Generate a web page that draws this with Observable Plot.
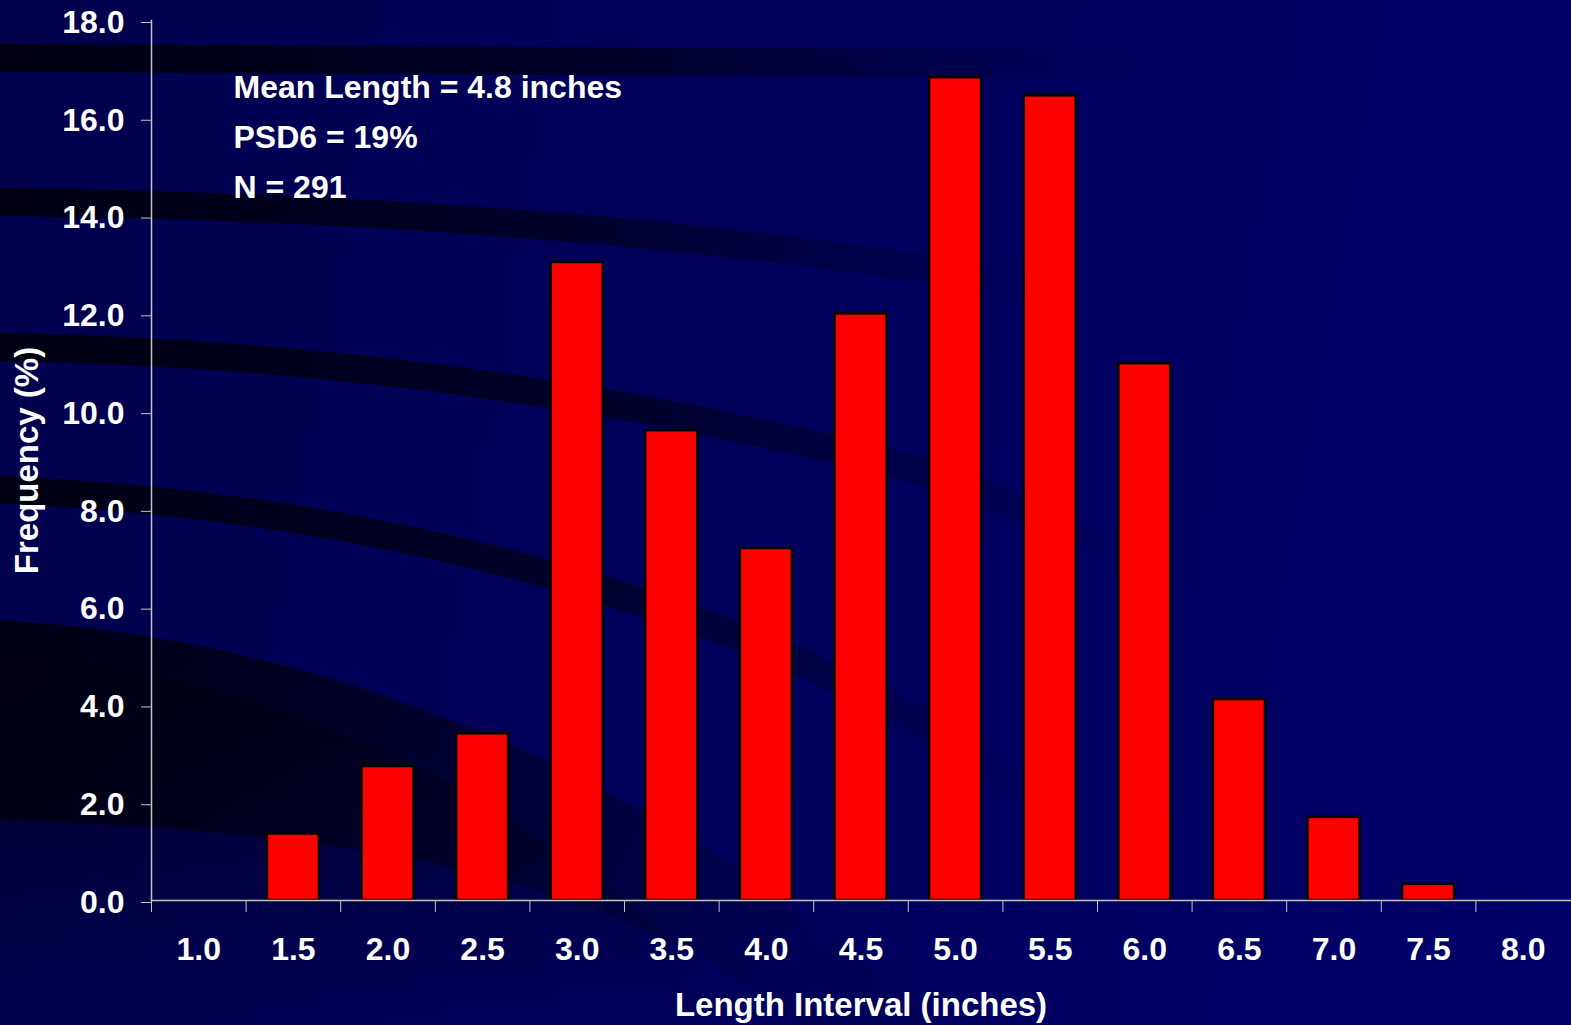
<!DOCTYPE html>
<html>
<head>
<meta charset="utf-8">
<script src="https://cdn.jsdelivr.net/npm/d3@7"></script>
<script src="https://cdn.jsdelivr.net/npm/@observablehq/plot@0.6"></script>
<style>
  html, body { margin: 0; padding: 0; width: 1571px; height: 1025px; overflow: hidden; }
  body {
    position: relative;
    background: linear-gradient(100deg, #00004c 0%, #000058 35%, #000062 70%, #00006a 100%);
    font-family: "Liberation Sans", Arial, sans-serif;
  }
  #bg { position: absolute; left: 0; top: 0; }
  #chart { position: absolute; left: 0; top: 0; }
</style>
</head>
<body>
<svg id="bg" width="1571" height="1025">
  <defs>
    <linearGradient id="fade" x1="0" x2="1" y1="0" y2="0">
      <stop offset="0" stop-color="#00000f" stop-opacity="0.95"/>
      <stop offset="0.55" stop-color="#00000f" stop-opacity="0.6"/>
      <stop offset="1" stop-color="#00000f" stop-opacity="0"/>
    </linearGradient>
    <linearGradient id="fade2" x1="0" x2="1" y1="0" y2="0.3">
      <stop offset="0" stop-color="#000010" stop-opacity="0.95"/>
      <stop offset="0.7" stop-color="#000010" stop-opacity="0.4"/>
      <stop offset="1" stop-color="#000010" stop-opacity="0.1"/>
    </linearGradient>
    <linearGradient id="fade3" x1="0" x2="0" y1="0" y2="1">
      <stop offset="0" stop-color="#000010" stop-opacity="0.6"/>
      <stop offset="1" stop-color="#000010" stop-opacity="0"/>
    </linearGradient>
  </defs>
  <g fill="none" stroke="url(#fade)" stroke-width="28">
    <path d="M0,58 C400,58 800,60 1150,64"/>
    <path d="M0,202 C300,205 700,225 1050,290"/>
    <path d="M0,347 C300,352 600,390 900,465 C1000,495 1100,540 1150,570"/>
    <path d="M0,490 C250,500 500,545 750,640 C900,700 1000,770 1050,810"/>
  </g>
  <path fill="url(#fade2)" d="M0,620 C350,640 680,790 940,1025 L800,1025 C600,860 300,830 0,820 Z"/>
  <path fill="url(#fade3)" d="M0,650 C300,680 550,800 760,1025 L0,1025 Z"/>
</svg>
<div id="chart"></div>
<script>
const categories = ["1.0","1.5","2.0","2.5","3.0","3.5","4.0","4.5","5.0","5.5","6.0","6.5","7.0","7.5","8.0"];
const frequency  = [0, 1.36, 2.74, 3.41, 13.05, 9.61, 7.2, 12.0, 16.83, 16.46, 10.98, 4.11, 1.70, 0.33, 0];
const yTicks = [0, 2, 4, 6, 8, 10, 12, 14, 16, 18];
const statsLines = ["Mean Length = 4.8 inches", "PSD6 = 19%", "N = 291"];
const yLabel = "Frequency (%)";
const xLabel = "Length Interval (inches)";

const data = categories.map((c, i) => ({interval: c, freq: frequency[i]}));

const W = 1571, H = 1025;
const mL = 151, mR = 1, mT = 20, mB = 125;
const step = (W - mL - mR) / categories.length;
const axisColor = "#c4c4c4";
const font = 32;
const labelFont = 33;

const chart = Plot.plot({
  width: W,
  height: H,
  marginLeft: mL,
  marginRight: mR,
  marginTop: mT,
  marginBottom: mB,
  style: {background: "transparent", color: "white", fontFamily: "'Liberation Sans', Arial, sans-serif", fontWeight: "bold", fontSize: font + "px"},
  x: {type: "band", domain: categories, paddingInner: 0.45, paddingOuter: 0.225, align: 0.5, round: false},
  y: {domain: [0, 18]},
  marks: [
    Plot.barY(data, {x: "interval", y: "freq", fill: "#ff0000", stroke: "#000000", strokeWidth: 2.5}),
    Plot.frame({anchor: "left", stroke: axisColor, strokeWidth: 1.5}),
    Plot.frame({anchor: "bottom", stroke: axisColor, strokeWidth: 1.5}),
    Plot.axisY({ticks: yTicks, tickFormat: d3.format(".1f"), tickSize: 10, tickPadding: 17, dy: 2, stroke: axisColor, label: null, fontSize: font, fill: "white"}),
    Plot.axisX({tickSize: 12, tickFormat: () => "", dx: -step / 2, stroke: axisColor, label: null}),
    Plot.axisX({tickSize: 0, tickPadding: 37, label: null, fontSize: font, fill: "white"}),
    Plot.text([yLabel], {frameAnchor: "left", textAnchor: "middle", rotate: -90, dx: -124, fill: "white", fontSize: labelFont, fontWeight: "bold"}),
    Plot.text([xLabel], {frameAnchor: "bottom", dy: 115, fill: "white", fontSize: labelFont, fontWeight: "bold"}),
    Plot.text([statsLines.join("\n")], {frameAnchor: "top-left", textAnchor: "start", lineAnchor: "top", lineHeight: 50 / font, dx: 82, dy: 42, fill: "white", fontSize: font, fontWeight: "bold"})
  ]
});
document.getElementById("chart").appendChild(chart);
</script>
</body>
</html>
